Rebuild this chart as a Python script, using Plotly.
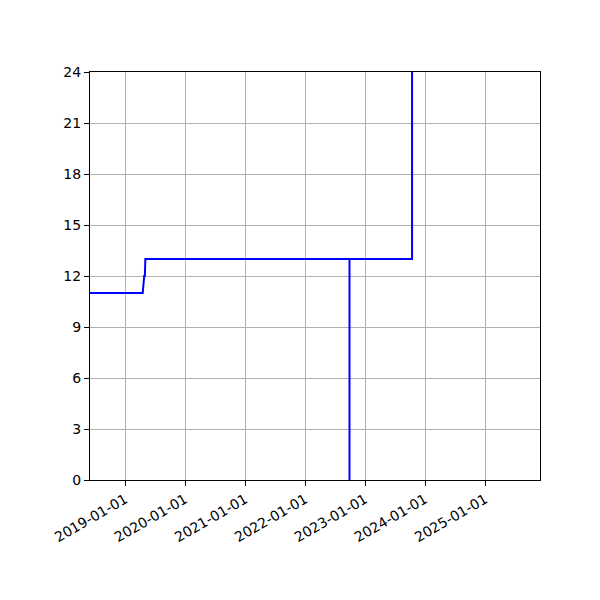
import plotly.graph_objects as go

# step series
dates = ["2018-06-01", "2019-04-18", "2019-04-27", "2019-05-01", "2019-05-04",
         "2022-09-28", "2022-09-28", "2022-09-28", "2023-10-14", "2023-10-14"]
values = [11, 11, 12, 12, 13, 13, 0, 13, 13, 24]

x_range = ["2018-06-01", "2025-12-01"]
y_range = [0, 24]

fig = go.Figure()
fig.add_trace(go.Scatter(
    x=dates, y=values, mode="lines",
    line=dict(color="#0000ff", width=2),
    showlegend=False,
))

axis_common = dict(
    showline=True, linecolor="black", linewidth=1, mirror=True,
    showgrid=True, gridcolor="#b0b0b0", gridwidth=1,
    ticks="outside", ticklen=5, tickcolor="black", tickwidth=1,
    zeroline=False, automargin=False,
    tickfont=dict(family="DejaVu Sans", size=14, color="black"),
)

fig.update_xaxes(
    type="date", range=x_range,
    tick0="2019-01-01", dtick="M12", tickformat="%Y-%m-%d",
    tickangle=-30, **axis_common,
)
fig.update_yaxes(range=y_range, dtick=3, **axis_common)

# page body adds ~8px offset, so margins are trimmed to land the axes box at 90..540 / 72..480
fig.update_layout(
    width=600, height=600,
    margin=dict(l=82, r=68, t=64, b=128),
    plot_bgcolor="white", paper_bgcolor="white",
)

fig.write_html("out.html")
